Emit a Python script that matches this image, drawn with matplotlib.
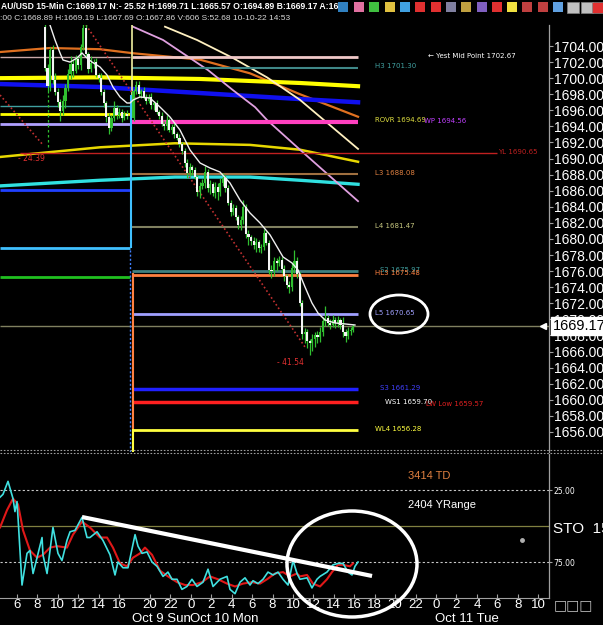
import numpy as np
import matplotlib
matplotlib.use("Agg")
import matplotlib.pyplot as plt
from matplotlib.patches import Ellipse, Rectangle
from matplotlib.lines import Line2D
import matplotlib.transforms as mtransforms

plt.rcParams['font.family'] = ['Liberation Sans', 'DejaVu Sans']

# ---------------- data ----------------
# compressed session-hour index for the x axis
hour_ticks = [0, 2, 4, 6, 8, 10, 13, 15, 17, 19, 21, 23, 25, 27, 29, 31, 33, 35, 37, 39, 41, 43, 45, 47, 49, 51]
hour_labels = ['6', '8', '10', '12', '14', '16', '20', '22', '0', '2', '4', '6', '8', '10', '12', '14',
               '16', '18', '20', '22', '0', '2', '4', '6', '8', '10']
day_labels = ['Oct 9 Sun', 'Oct 10 Mon', 'Oct 11 Tue']
day_pos = [11.25, 16.95, 40.9]

price_ticks = list(range(1656, 1705, 2))

# 15-min candles, segment before and after the weekend break
seg1_start, seg2_start = 2.74, 11.40
open1_first = 1706.4
close1 = [1701.3, 1699.0, 1703.5, 1699.8, 1698.3, 1697.0, 1695.9, 1697.2, 1698.8, 1700.5,
          1701.8, 1700.9, 1702.4, 1701.6, 1703.9, 1706.2, 1703.0, 1701.2, 1701.9, 1702.0,
          1700.4, 1700.0, 1698.3, 1696.9, 1695.2, 1693.8, 1695.0, 1696.3, 1695.4, 1695.8,
          1695.1, 1695.6, 1695.3]
wick_up1 = [0.3, 0.5, 0.4, 0.6, 0.8, 0.5, 0.4, 0.7, 0.5, 0.6, 0.9, 0.4, 0.5, 0.3, 0.4, 0.5, 0.6,
            0.3, 0.8, 0.4, 0.5, 0.3, 0.6, 0.4, 0.3, 0.5, 0.4, 0.8, 0.3, 0.5, 0.4, 0.3, 0.4]
wick_dn1 = [0.4, 0.8, 0.6, 0.5, 0.4, 0.6, 1.2, 0.5, 0.9, 0.4, 0.6, 0.7, 0.3, 0.5, 0.6, 0.4, 0.3,
            0.5, 0.4, 0.6, 0.3, 0.5, 0.4, 0.5, 0.6, 0.7, 0.4, 0.3, 0.5, 0.4, 0.6, 0.3, 0.4]

open2_first = 1695.0
close2 = [1698.4, 1699.2, 1698.0, 1698.4, 1697.7, 1697.2, 1697.6, 1696.6, 1696.9, 1695.8,
          1695.3, 1694.3, 1694.0, 1694.8, 1693.6, 1693.9, 1693.0, 1692.6, 1691.8, 1690.9,
          1689.5, 1688.2, 1688.9, 1688.6, 1687.7, 1685.9, 1686.6, 1686.9, 1688.3, 1686.3,
          1686.8, 1685.7, 1686.5, 1685.8, 1686.9, 1687.6, 1686.3, 1684.5, 1683.4, 1683.8,
          1682.7, 1681.7, 1682.3, 1684.0, 1680.6, 1680.2, 1679.8, 1679.2, 1679.6, 1678.9,
          1679.0, 1680.7, 1679.5, 1676.2, 1676.0, 1677.2, 1677.0, 1677.4, 1676.3, 1675.4,
          1674.3, 1674.0, 1676.4, 1677.3, 1675.6, 1672.0, 1668.2, 1668.4, 1667.3, 1667.0,
          1667.6, 1668.0, 1667.8, 1668.4, 1669.8, 1670.2, 1669.6, 1669.3, 1669.9, 1669.5,
          1669.9, 1669.3, 1668.4, 1667.9, 1668.6, 1668.7, 1669.17]
wick_up2 = [0.3, 0.5, 0.4, 0.3, 0.5, 0.3, 0.4, 0.5, 0.3, 0.4,
            0.3, 0.5, 0.4, 0.6, 0.3, 0.4, 0.5, 0.3, 0.4, 0.3,
            0.4, 0.5, 0.6, 0.3, 0.4, 0.3, 0.5, 0.6, 0.8, 0.4,
            0.5, 0.3, 0.6, 0.4, 0.7, 0.6, 0.3, 0.4, 0.3, 0.5,
            0.4, 0.3, 0.6, 0.9, 0.4, 0.5, 0.3, 0.4, 0.5, 0.3,
            0.4, 0.6, 0.3, 0.4, 0.5, 0.6, 0.4, 0.5, 0.3, 0.4,
            0.3, 0.5, 0.6, 1.3, 0.4, 0.3, 0.4, 0.5, 0.4, 0.3,
            0.6, 0.4, 0.5, 0.6, 0.5, 1.5, 0.4, 0.5, 0.6, 0.4,
            0.5, 0.3, 1.0, 0.4, 0.5, 0.4, 0.3]
wick_dn2 = [0.3, 0.4, 0.3, 0.5, 0.3, 0.4, 0.3, 0.4, 0.5, 0.3,
            0.4, 0.3, 0.5, 0.4, 0.3, 0.5, 0.4, 0.3, 0.4, 0.3,
            0.5, 0.6, 0.4, 0.7, 0.3, 0.5, 0.8, 0.4, 0.6, 0.5,
            0.7, 0.4, 0.6, 0.9, 0.5, 0.3, 0.4, 0.3, 0.5, 0.4,
            0.3, 0.5, 0.6, 0.4, 0.5, 0.9, 0.6, 0.4, 0.8, 0.5,
            0.6, 0.4, 0.3, 0.5, 0.8, 0.6, 1.0, 0.4, 0.5, 0.6,
            0.4, 0.7, 0.5, 0.6, 0.4, 0.3, 0.6, 1.1, 0.8, 1.4,
            0.9, 1.0, 0.7, 0.6, 0.5, 0.6, 0.4, 0.5, 0.3, 0.6,
            0.4, 0.5, 0.6, 0.7, 0.4, 0.5, 0.3]

# short moving average (white)
ma_t = [3.23, 3.72, 4.21, 4.50, 5.19, 5.87, 6.36, 6.85, 7.34, 8.12, 8.81, 9.39, 10.08, 10.76, 11.06,
        11.35, 12.04, 13.01, 13.99, 14.97, 15.95, 16.93, 17.91, 18.88, 19.86, 20.84, 21.82, 22.80,
        23.78, 24.76, 26.03, 26.91, 27.50, 28.18, 28.86, 29.45, 30.14, 31.12, 32.09, 33.07]
ma_p = [1706.6, 1704.75, 1703.13, 1702.26, 1702.0, 1702.5, 1703.13, 1702.5, 1702.0, 1701.39, 1700.39,
        1698.9, 1697.66, 1696.91, 1696.91, 1697.28, 1697.66, 1697.53, 1696.41, 1695.17, 1693.55,
        1691.07, 1689.45, 1688.83, 1688.33, 1686.96, 1684.85, 1683.23, 1681.99, 1680.5, 1677.76,
        1677.01, 1676.14, 1674.03, 1672.04, 1670.79, 1669.92, 1669.55, 1669.43, 1669.30]

# longer averages / envelopes
yel_thick_t = [-1.66, 8.12, 17.91, 27.69, 33.37]
yel_thick_p = [1700.0, 1700.1, 1699.9, 1699.4, 1699.0]
blue_thick_t = [-1.66, 8.12, 11.35, 17.91, 27.69, 33.37]
blue_thick_p = [1699.27, 1698.9, 1698.65, 1698.15, 1697.4, 1697.0]
orange_t = [-1.66, 3.23, 8.12, 11.35, 17.91, 22.80, 27.69, 33.37]
orange_p = [1703.25, 1703.75, 1703.6, 1703.1, 1702.3, 1700.6, 1698.0, 1695.2]
pink_t = [11.35, 14.29, 18.69, 21.14, 23.29, 24.46, 27.69, 33.37]
pink_p = [1706.4, 1704.75, 1701.0, 1698.5, 1696.4, 1694.8, 1691.1, 1684.7]
cream_t = [14.48, 17.61, 21.14, 24.46, 27.69, 33.37]
cream_p = [1706.4, 1704.75, 1702.5, 1700.1, 1697.3, 1691.2]
yel_thin_t = [-1.66, 8.12, 15.46, 22.80, 27.69, 33.37]
yel_thin_p = [1690.2, 1691.4, 1691.9, 1691.7, 1691.1, 1689.6]
cyan_thick_t = [-1.66, 8.12, 15.46, 22.80, 27.69, 33.37]
cyan_thick_p = [1686.6, 1687.3, 1687.7, 1687.7, 1687.3, 1686.8]

# previous-session levels (left of break)
prev_levels = [1702.63, 1696.54, 1695.52, 1694.28, 1686.09, 1678.88, 1675.27]

# pivot levels (right of break)
lvl_names = ['Yest Mid Point', 'H3', 'ROVR', 'WP', 'YL', 'L3', 'L4', 'S2', 'HL3', 'L5', 'S3', 'WS1',
             'LW Low', 'WL4']
lvl_vals = [1702.67, 1701.30, 1694.69, 1694.56, 1690.65, 1688.08, 1681.47, 1675.97, 1675.48, 1670.65,
            1661.29, 1659.70, 1659.57, 1656.28]
last_price = 1669.17

# retracement measures
fib1_t, fib1_p = [-1.66, 2.54], [1697.9, 1691.7]
fib2_t, fib2_p = [6.75, 28.18], [1706.6, 1666.56]
fib_labels = ['- 24.39', '- 41.54']

# stochastic (inverted scale 0 top .. 100 bottom)
k_t = [-1.66, -1.37, -0.88, -0.39, -0.20, 0.00, 0.10, 0.49, 0.98, 1.27, 1.57, 1.96, 2.45, 2.54, 2.94,
       3.52, 4.01, 4.40, 4.89, 5.19, 5.68, 6.36, 6.85, 7.14, 7.83, 8.41, 9.10, 9.59, 9.88, 10.37,
       10.86, 11.55, 11.84, 12.23, 12.72, 13.21, 13.70, 14.29, 14.77, 15.17, 15.66, 16.14, 16.63,
       17.12, 17.61, 18.20, 18.69, 19.18, 19.86, 20.55, 20.84, 21.33, 21.82, 22.31, 22.80, 23.09,
       23.58, 24.07, 24.56, 25.05, 25.54, 26.03, 26.52, 27.01, 27.40, 27.69, 28.38, 28.86, 29.35,
       29.65, 30.33, 30.92, 31.41, 31.90, 32.39, 32.78, 33.07, 33.37]
k_v = [30, 28, 19, 31, 40, 33, 44, 91, 69, 67, 83, 72, 58, 70, 83,
       51, 69, 74, 60, 54, 53, 44, 58, 58, 54, 60, 70, 84, 75, 79,
       79, 56, 64, 69, 68, 75, 78, 85, 82, 87, 87, 94, 92,
       87, 92, 89, 80, 92, 87, 85, 94, 97, 89, 86, 91, 88,
       90, 87, 82, 84, 82, 87, 91, 74, 83, 87, 86, 93, 87,
       85, 82, 77, 76, 76, 82, 84, 78, 75]
d_t = [-1.66, -0.98, -0.39, 0.10, 0.59, 1.27, 1.96, 2.54, 3.23, 3.91, 4.89, 5.48, 6.36, 7.14, 8.12,
       8.81, 9.39, 10.08, 10.76, 11.35, 12.04, 12.52, 13.21, 13.99, 14.77, 15.66, 16.44, 17.22,
       18.10, 18.88, 19.67, 20.55, 21.33, 22.11, 22.99, 23.78, 24.46, 25.24, 26.03, 26.71, 27.40,
       27.69, 28.38, 28.96, 29.65, 30.33, 30.82, 31.41, 31.90, 32.58, 32.88]
d_v = [51, 39, 31, 35, 53, 67, 72, 70, 65, 64, 65, 56, 47, 51, 58,
       58, 65, 76, 78, 72, 69, 65, 70, 81, 85, 89, 91, 91,
       89, 85, 87, 90, 92, 90, 89, 90, 87, 83, 82, 85, 83,
       85, 84, 90, 92, 87, 82, 77, 77, 78, 76]
trend_t, trend_v = [6.36, 34.74], [43.75, 84.7]
stoch_levels = [25, 50, 75]
td_text, yrange_text = '3414 TD', '2404 YRange'

# ---------------- layout helpers (pixel -> data) ----------------
W, H = 603, 625
def fx(px): return px / W
def fy(py): return 1 - py / H
def hx(px): return (px - 17) / 10.22
def pp(py): return 1704 - (py - 46) / 8.04
def sv(py): return (py - 454) / 1.44

fig = plt.figure(figsize=(6.03, 6.25), dpi=100, facecolor='black')
ax = fig.add_axes([0, fy(452), fx(549), (452 - 25) / H], facecolor='black')
ax2 = fig.add_axes([0, fy(598), fx(549), (598 - 454) / H], facecolor='black')

XL = (hx(0), hx(549))
for a in (ax, ax2):
    a.set_xlim(*XL)
    for s in ['top', 'left', 'bottom']:
        a.spines[s].set_visible(False)
    a.spines['right'].set_color('#a0a0a0')
    a.spines['right'].set_linewidth(0.9)
ax.set_ylim(pp(452), pp(25))
ax2.set_ylim(100, 0)

# ---------------- main panel ----------------
ax.yaxis.tick_right()
ax.set_yticks(price_ticks)
ax.set_yticklabels([f'{v:.2f}' for v in price_ticks], fontsize=10, color='white')
ax.tick_params(axis='y', length=3, width=0.8, color='#a0a0a0', pad=0.5)
ax.set_xticks([])

# previous session levels
prev_cols = ['#c8a8a8', '#40a0a0', '#ffff00', '#b0a0ff', '#2040ff', '#40c0ff', '#20c020']
prev_lw = [1.0, 1.0, 2.0, 2.0, 2.0, 2.0, 2.0]
for v, c, w in zip(prev_levels, prev_cols, prev_lw):
    ax.hlines(v, hx(0), hx(130), color=c, lw=w, zorder=2)

# envelopes
ax.plot(orange_t, orange_p, color='#e07020', lw=1.6, zorder=2)
ax.plot(yel_thick_t, yel_thick_p, color='#ffff00', lw=3.0, zorder=2)
ax.plot(blue_thick_t, blue_thick_p, color='#1010f0', lw=3.2, zorder=2)
ax.plot(yel_thin_t, yel_thin_p, color='#e8d800', lw=1.8, zorder=2)
ax.plot(cyan_thick_t, cyan_thick_p, color='#30e0e0', lw=2.4, zorder=2)
ax.plot(pink_t, pink_p, color='#e0a0e0', lw=1.3, zorder=2)
ax.plot(cream_t, cream_p, color='#fff0c0', lw=1.3, zorder=2)

# pivot levels (right of the break)
L = dict(zip(lvl_names, lvl_vals))
x0r, x1r = hx(132), hx(358)
lvl_style = {'Yest Mid Point': ('#f0c8c8', 2.0), 'H3': ('#408888', 1.5), 'WP': ('#ff40c0', 3.0),
             'L3': ('#a07040', 1.5), 'L4': ('#808060', 1.5), 'S2': ('#408080', 2.0),
             'HL3': ('#ff8040', 2.0), 'L5': ('#a0a0ff', 2.0), 'S3': ('#2020ff', 2.5),
             'WS1': ('#ff2020', 2.5), 'WL4': ('#ffff40', 2.0)}
for name, (c, w) in lvl_style.items():
    ax.hlines(L[name], x0r, x1r, color=c, lw=w, zorder=2)
ax.hlines(L['YL'], hx(20), hx(497), color='#c02020', lw=1.0, zorder=2)
ax.hlines(last_price, XL[0], XL[1], color='#808060', lw=1.0, zorder=2)

# session-break vertical lines
ax.vlines(hx(132), pp(95), pp(25), color='#f0f0a0', lw=1.2, zorder=3)
ax.vlines(hx(131), pp(248), pp(95), color='#40c0ff', lw=1.5, zorder=3)
ax.vlines(hx(130), pp(452), pp(248), color='#4080ff', lw=1.0, linestyles=(0, (1.5, 1.5)), zorder=3)
ax.vlines(hx(133), pp(429), pp(273), color='#ff8040', lw=1.5, zorder=3)
ax.vlines(hx(133), pp(452), pp(429), color='#ffff40', lw=1.5, zorder=3)

# retracement lines
ax.plot(fib1_t, fib1_p, color='#c03030', lw=1.2, ls=(0, (1, 1.5)), zorder=3)
ax.vlines(hx(48), pp(147), pp(95), color='#30c030', lw=0.9, linestyles=(0, (2, 2)), zorder=3)
ax.plot(fib2_t, fib2_p, color='#c03030', lw=1.2, ls=(0, (1, 1.5)), zorder=3)
ax.text(hx(18), pp(158), fib_labels[0], color='#e03030', fontsize=5.5, va='center', family='DejaVu Sans')
ax.text(hx(277), pp(362), fib_labels[1], color='#e03030', fontsize=5.5, va='center', family='DejaVu Sans')

# candles
def draw_candles(start, first_open, closes, wu, wd):
    closes = np.array(closes)
    opens = np.r_[first_open, closes[:-1]]
    t = start + 0.25 * np.arange(len(closes))
    top = np.maximum(opens, closes)
    bot = np.minimum(opens, closes)
    highs = top + np.array(wu)
    lows = bot - np.array(wd)
    green = '#30c030'
    ax.vlines(t, lows, highs, color=green, lw=0.9, zorder=4)
    cols = np.where(closes >= opens, green, '#f4f4f4')
    ax.bar(t, np.maximum(top - bot, 0.12), bottom=bot, width=0.21, color=cols, zorder=5, linewidth=0)

draw_candles(seg1_start, open1_first, close1, wick_up1, wick_dn1)
draw_candles(seg2_start, open2_first, close2, wick_up2, wick_dn2)
ax.plot(ma_t, ma_p, color='#f0f0f0', lw=1.0, zorder=6)

# level labels
lab = dict(family='DejaVu Sans', fontsize=5, va='center', ha='left', zorder=7)
ax.text(hx(428), L['Yest Mid Point'] + 0.1, f"\u2190 Yest Mid Point {L['Yest Mid Point']:.2f}", color='white', **lab)
ax.text(hx(375), L['H3'] + 0.2, f"H3 {L['H3']:.2f}", color='#40a0a0', **lab)
ax.text(hx(375), L['ROVR'] + 0.1, f"ROVR {L['ROVR']:.2f}", color='#e0e040', **lab)
ax.text(hx(424), L['WP'] + 0.1, f"WP {L['WP']:.2f}", color='#c040ff', **lab)
ax.text(hx(498), L['YL'] + 0.15, f"YL {L['YL']:.2f}", color='#c02020', **lab)
ax.text(hx(375), L['L3'] + 0.1, f"L3 {L['L3']:.2f}", color='#e08040', **lab)
ax.text(hx(375), L['L4'] + 0.1, f"L4 {L['L4']:.2f}", color='#c8c880', **lab)
ax.text(hx(380), L['S2'] + 0.2, f"S2 {L['S2']:.2f}", color='#40a0a0', **lab)
ax.text(hx(375), L['HL3'] + 0.25, f"HL3 {L['HL3']:.2f}", color='#ff8040', **lab)
ax.text(hx(375), L['L5'] + 0.1, f"L5 {L['L5']:.2f}", color='#a0a0ff', **lab)
ax.text(hx(380), L['S3'] + 0.15, f"S3 {L['S3']:.2f}", color='#4040ff', **lab)
ax.text(hx(385), L['WS1'] + 0.05, f"WS1 {L['WS1']:.2f}", color='white', **lab)
ax.text(hx(426), L['LW Low'] - 0.05, f"LW Low {L['LW Low']:.2f}", color='#e02020', **lab)
ax.text(hx(375), L['WL4'] + 0.1, f"WL4 {L['WL4']:.2f}", color='#ffff40', **lab)

ax.add_patch(Ellipse((hx(399), pp(314)), 58 / 10.22, 38 / 8.04, fill=False, ec='white', lw=2, zorder=8))

# last price box
bt = mtransforms.blended_transform_factory(ax.transAxes, ax.transData)
ax.text(1 + 4 / 549, last_price, f'{last_price:.2f}', transform=bt, fontsize=10.5, color='black',
        va='center', ha='left', clip_on=False, zorder=10,
        bbox=dict(facecolor='white', edgecolor='white', pad=1.2))
ax.plot([hx(543)], [last_price], marker='<', color='white', ms=4, clip_on=False, zorder=10)

# ---------------- lower panel ----------------
ax2.spines['bottom'].set_visible(True)
ax2.spines['bottom'].set_color('#a0a0a0')
ax2.set_xticks(hour_ticks)
ax2.set_xticklabels(hour_labels)
ax2.tick_params(axis='x', length=3, direction='in', color='#a0a0a0', labelsize=9.5, labelcolor='white', pad=1)
ax2.yaxis.tick_right()
ax2.set_yticks([25, 75])
ax2.set_yticklabels(['25.00', '75.00'], fontsize=5.5, color='white', family='DejaVu Sans')
ax2.tick_params(axis='y', length=2, color='#a0a0a0', pad=1)

for v in stoch_levels:
    if v == 50:
        ax2.axhline(v, color='#808040', lw=0.9, zorder=1)
    else:
        ax2.axhline(v, color='#c8c8c8', lw=0.8, ls=(0, (2, 2)), zorder=1)

ax2.plot(d_t, d_v, color='#e01818', lw=1.5, zorder=3)
ax2.plot(k_t, k_v, color='#40e0e0', lw=1.2, zorder=4)
ax2.plot(trend_t, trend_v, color='white', lw=3, zorder=5, solid_capstyle='butt')
ax2.add_patch(Ellipse((hx(352), sv(564)), 130 / 10.22, 106 / 1.44, fill=False, ec='white', lw=2.5,
                      zorder=6, clip_on=False))
ax2.plot([hx(522)], [sv(540)], 'o', color='#b0b0b0', ms=2.5, zorder=5)
ax2.text(hx(408), sv(476), td_text, color='#e08040', fontsize=8, va='center', ha='left')
ax2.text(hx(408), sv(505), yrange_text, color='white', fontsize=8, va='center', ha='left')

bt2 = mtransforms.blended_transform_factory(ax2.transAxes, ax2.transData)
ax2.text(1 + 4 / 549, sv(529), 'STO  15,', transform=bt2, fontsize=11, color='white', va='center',
         ha='left', clip_on=False)

bx = mtransforms.blended_transform_factory(ax2.transData, ax2.transAxes)
for lbl, pos in zip(day_labels, day_pos):
    ax2.text(pos, (598 - 619) / 144, lbl, transform=bx, fontsize=9.5, color='white', va='center',
             ha='left', clip_on=False)

# separators
for yy in (449.5, 452.5):
    fig.add_artist(Line2D([0, 1], [fy(yy), fy(yy)], color='#a0a0a0', lw=0.8, ls=(0, (1.5, 1.5))))

# ---------------- header ----------------
fig.text(0.002, fy(6.5), 'AU/USD 15-Min C:1669.17 N:- 25.52 H:1699.71 L:1665.57 O:1694.89 B:1669.17 A:16',
         color='white', fontsize=6.2, fontweight='bold', va='center', ha='left')
fig.text(0.0, fy(18.5), ':00 C:1668.89 H:1669.19 L:1667.69 O:1667.86 V:606 S:52.68 10-10-22 14:53',
         color='#d8d8d8', fontsize=6.0, va='center', ha='left')
icon_x = [343, 359, 374, 390, 405, 420, 436, 451, 466, 482, 497, 512, 527, 543, 558]
icon_c = ['#3080c0', '#e070a0', '#40c040', '#e0c040', '#40a0e0', '#e03030', '#e03030', '#8080a0',
          '#c0a040', '#8060c0', '#e03030', '#f0e040', '#c04040', '#c04040', '#60a0e0']
for xx, cc in zip(icon_x, icon_c):
    fig.add_artist(Rectangle((fx(xx - 5), fy(12)), fx(10), 10 / H, facecolor=cc, edgecolor='none'))
for xx, cc in zip([573, 587, 598], ['#c0c0c0', '#c0c0c0', '#e03030']):
    fig.add_artist(Rectangle((fx(xx - 6), fy(13)), fx(12), 11 / H, facecolor=cc, edgecolor='#808080', lw=0.5))

# bottom-right squares
fig.text(fx(554), fy(605), '\u25a1\u25a1\u25a1', color='#c0c0c0', fontsize=10, va='center', ha='left',
         family='DejaVu Sans')

fig.savefig('out.png', dpi=100, facecolor='black')
